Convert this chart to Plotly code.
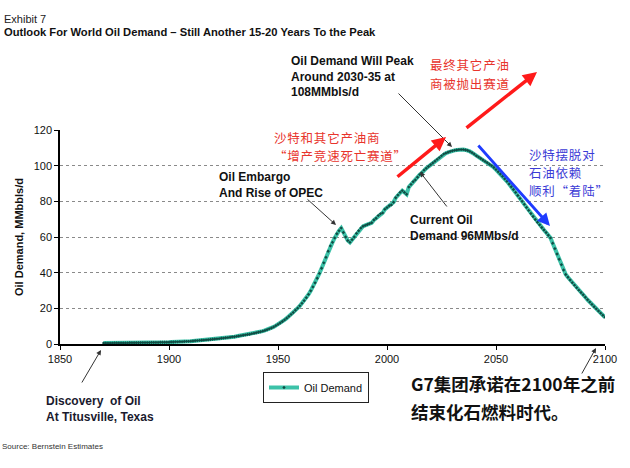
import plotly.graph_objects as go

# ---- data ----
years = list(range(1870, 2101))
demand = [
    # 1870-1879
    0.5, 0.5, 0.5, 0.5, 0.5, 0.6, 0.6, 0.6, 0.6, 0.6,
    # 1880-1889
    0.6, 0.6, 0.7, 0.7, 0.7, 0.7, 0.7, 0.8, 0.8, 0.8,
    # 1890-1899
    0.8, 0.8, 0.9, 0.9, 0.9, 0.9, 1.0, 1.0, 1.0, 1.0,
    # 1900-1909
    1.0, 1.1, 1.1, 1.2, 1.2, 1.3, 1.3, 1.4, 1.5, 1.5,
    # 1910-1919
    1.6, 1.7, 1.8, 1.9, 2.0, 2.1, 2.2, 2.3, 2.4, 2.5,
    # 1920-1929
    2.7, 2.8, 2.9, 3.0, 3.2, 3.3, 3.5, 3.6, 3.8, 4.0,
    # 1930-1939
    4.1, 4.3, 4.5, 4.7, 4.9, 5.1, 5.3, 5.5, 5.8, 6.0,
    # 1940-1949
    6.3, 6.6, 6.9, 7.2, 7.6, 8.0, 8.5, 9.0, 9.6, 10.3,
    # 1950-1959
    11.0, 11.8, 12.6, 13.5, 14.5, 15.5, 16.6, 17.7, 18.9, 20.1,
    # 1960-1969
    21.4, 22.8, 24.3, 26.0, 27.8, 29.8, 32.0, 34.3, 36.9, 39.6,
    # 1970-1979
    42.5, 45.5, 48.6, 52.0, 55.0, 57.0, 59.5, 61.8, 63.5, 65.0,
    # 1980-1989
    62.5, 60.0, 58.0, 57.0, 58.5, 60.0, 62.0, 63.5, 65.0, 66.0,
    # 1990-1999
    66.5, 67.0, 67.5, 68.0, 69.5, 70.5, 72.0, 73.0, 73.5, 75.5,
    # 2000-2009
    76.5, 77.5, 78.0, 79.5, 82.0, 83.5, 85.0, 86.0, 85.0, 84.0,
    # 2010-2019
    88.0, 89.5, 91.0, 92.0, 93.5, 95.0, 96.0, 97.5, 98.5, 99.5,
    # 2020-2029
    100.5, 101.5, 102.5, 103.5, 104.5, 105.5, 106.5, 107.0, 107.5, 108.0,
    # 2030-2039
    108.3, 108.6, 108.8, 109.0, 109.0, 109.0, 108.8, 108.5, 108.0, 107.3,
    # 2040-2049
    106.5, 105.5, 104.8, 104.0, 103.2, 102.4, 101.6, 100.8, 100.0, 99.0,
    # 2050-2059
    97.8, 96.6, 95.3, 94.0, 92.6, 91.2, 89.7, 88.2, 86.6, 85.0,
    # 2060-2069
    83.3, 81.6, 80.0, 78.3, 76.6, 74.9, 73.2, 71.5, 69.8, 68.3,
    # 2070-2079
    66.8, 65.3, 63.9, 62.5, 61.0, 59.5, 56.5, 53.5, 50.5, 47.5,
    # 2080-2089
    44.5, 41.5, 39.0, 37.4, 35.9, 34.4, 33.0, 31.6, 30.2, 28.9,
    # 2090-2100
    27.6, 26.2, 24.8, 23.5, 22.2, 20.9, 19.7, 18.5, 17.3, 16.1, 15.0,
]
x_ticks = [1850, 1900, 1950, 2000, 2050, 2100]
y_ticks = [0, 20, 40, 60, 80, 100, 120]
series_name = "Oil Demand"

# ---- pixel helpers (plot area: x 60..605, y 130..344) ----
L, R, T, B = 60, 605, 130, 344
W, H = 630, 468


def px(x):
    return (x - L) / (R - L)


def py(y):
    return (B - y) / (B - T)


fig = go.Figure()
fig.add_trace(go.Scatter(
    x=years, y=demand, name=series_name, mode="lines+markers",
    line=dict(color="#3cc2a8", width=4),
    marker=dict(symbol="diamond", size=2.6, color="#0f4d44"),
))

ann = []
FONT = "Liberation Sans, Arial, sans-serif"
CJK = "Noto Sans CJK SC"


def text(x, y, s, size=12, color="#111", bold=True, family=FONT, anchor="left", valign="top"):
    if bold:
        s = "<b>" + s + "</b>"
    ann.append(dict(xref="paper", yref="paper", x=px(x), y=py(y), text=s,
                    showarrow=False, xanchor=anchor, yanchor=valign, align=anchor,
                    font=dict(size=size, color=color, family=family)))


def arrow(hx, hy, tx, ty, color="#333", width=1, head=2, size=1.0):
    ann.append(dict(xref="paper", yref="paper", x=px(hx), y=py(hy), text="",
                    showarrow=True, ax=tx - hx, ay=ty - hy, axref="pixel", ayref="pixel",
                    arrowcolor=color, arrowwidth=width, arrowhead=head, arrowsize=size))


def spaced(s):
    return "\u200a".join(s)


# titles
text(2, 11, "Exhibit 7", size=11, bold=False, color="#222")
text(2, 24, "Outlook For World Oil Demand – Still Another 15-20 Years To the Peak", size=11.2)
text(0, 440, "Source: Bernstein Estimates", size=8, bold=False, color="#333")

# y axis title
ann.append(dict(xref="paper", yref="paper", x=px(19), y=py(237), text="<b>Oil Demand, MMbbls/d</b>",
                showarrow=False, textangle=-90, xanchor="center", yanchor="middle",
                font=dict(size=11, color="#111", family=FONT)))

# black annotations
text(289, 52, "Oil Demand Will Peak<br>Around 2030-35 at<br>108MMbls/d", size=12)
arrow(452, 147, 397, 92)
text(217, 168, "Oil Embargo<br>And Rise of OPEC", size=12)
arrow(336, 225, 306, 198)
text(408, 211, "Current Oil<br>Demand 96MMbs/d", size=12)
arrow(420, 172, 448, 208)
text(44, 392, "Discovery  of Oil<br>At Titusville, Texas", size=12, color="#1a1a2e")
arrow(101, 350, 81, 384)
arrow(596, 348, 581, 375)

# Chinese annotations (one annotation per line)
RED, BLUE = "#e8342c", "#3b3bd6"
CS = 12.5
for yy, s in [(65, "最终其它产油"), (83, "商被抛出赛道")]:
    text(428, yy, spaced(s), size=CS, color=RED, bold=False, family=CJK, valign="middle")
for yy, s in [(137, "沙特和其它产油商"), (155, "“增产竞速死亡赛道”")]:
    text(272, yy, spaced(s), size=CS, color=RED, bold=False, family=CJK, valign="middle")
for yy, s in [(154, "沙特摆脱对"), (172, "石油依赖"), (190, "顺利“着陆”")]:
    text(527, yy, spaced(s), size=CS, color=BLUE, bold=False, family=CJK, valign="middle")
for yy, s in [(383, "G7集团承诺在2100年之前"), (411, "结束化石燃料时代。")]:
    text(409, yy, s, size=17.5, color="#111", family=CJK, valign="middle")

# red / blue arrows
arrow(537, 72, 465, 129, color="#ff1a1a", width=3.5, head=2, size=0.8)
arrow(446, 137, 396, 178, color="#ff1a1a", width=3.5, head=2, size=0.8)
arrow(550, 226, 477, 144, color="#1f3cff", width=2.8, head=2, size=0.9)

fig.update_layout(
    width=W, height=H,
    margin=dict(l=L, r=W - R, t=T, b=H - B, pad=0),
    paper_bgcolor="white", plot_bgcolor="white",
    font=dict(family=FONT, size=11, color="#111"),
    showlegend=True,
    legend=dict(x=px(263), y=py(372), xanchor="left", yanchor="top",
                bordercolor="#222", borderwidth=1, bgcolor="white",
                font=dict(size=11, color="#111", family=FONT)),
    annotations=ann,
    xaxis=dict(range=[1850, 2100], tickvals=x_ticks, showgrid=False,
               showline=True, linecolor="black", linewidth=1.5,
               ticks="outside", ticklen=4, tickcolor="black",
               zeroline=False, tickfont=dict(size=11)),
    yaxis=dict(range=[0, 120], tickvals=y_ticks, showgrid=True,
               gridcolor="#8a8a8a", griddash="dot", gridwidth=1,
               showline=True, linecolor="black", linewidth=1.5,
               ticks="outside", ticklen=4, tickcolor="black",
               zeroline=False, tickfont=dict(size=11)),
)

fig.write_html("out.html", config={"displayModeBar": False},
               post_script="document.body.style.margin='0';")
